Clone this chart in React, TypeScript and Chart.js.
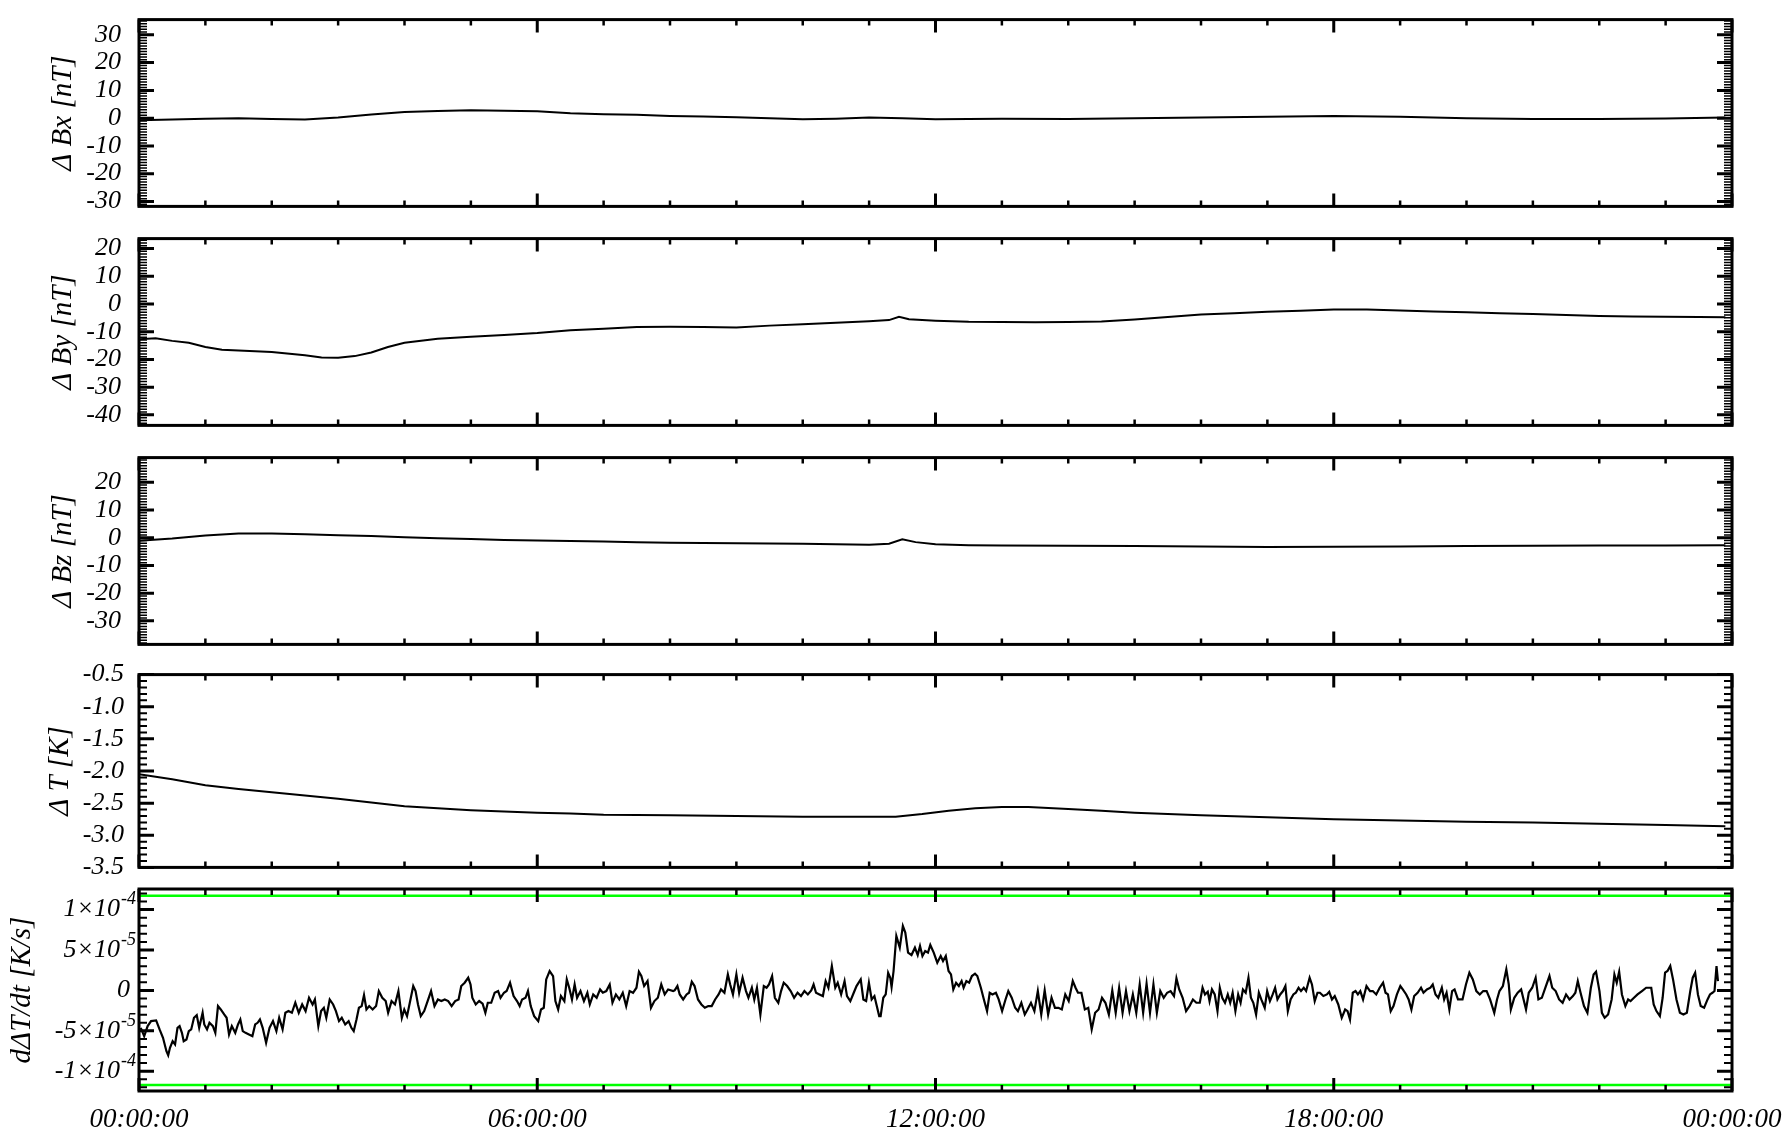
import React, { useEffect, useRef } from "react";
import { Chart, registerables } from "chart.js";

Chart.register(...registerables);

const SERIF = "'Liberation Serif', 'Times New Roman', 'DejaVu Serif', serif";

// ---------- DATA (time in minutes since 00:00:00) ----------
const bxTimes = [0, 30, 60, 90, 120, 150, 180, 210, 240, 270, 300, 330, 360, 390, 420, 450, 480, 510, 540, 570, 600, 630, 660, 690, 720, 780, 840, 900, 960, 1020, 1080, 1140, 1200, 1260, 1320, 1380, 1434];
const bxValues = [-0.8, -0.5, -0.2, 0.0, -0.3, -0.5, 0.2, 1.3, 2.2, 2.6, 2.8, 2.7, 2.5, 1.8, 1.4, 1.2, 0.8, 0.6, 0.3, 0.0, -0.4, -0.2, 0.2, 0.0, -0.4, -0.2, -0.3, 0.0, 0.2, 0.5, 0.8, 0.5, 0.0, -0.3, -0.3, -0.1, 0.2];

const byTimes = [0, 15, 30, 45, 60, 75, 90, 120, 150, 165, 180, 195, 210, 225, 240, 270, 300, 330, 360, 390, 420, 450, 480, 510, 540, 570, 600, 630, 660, 678, 687, 696, 720, 750, 780, 810, 840, 870, 900, 930, 960, 990, 1020, 1050, 1080, 1110, 1140, 1170, 1200, 1230, 1260, 1290, 1320, 1350, 1380, 1410, 1434];
const byValues = [-12.7, -12.4, -13.3, -14.0, -15.5, -16.5, -16.8, -17.3, -18.5, -19.3, -19.4, -18.8, -17.5, -15.5, -14.0, -12.5, -11.8, -11.2, -10.5, -9.5, -8.9, -8.3, -8.2, -8.3, -8.5, -7.8, -7.3, -6.8, -6.2, -5.8, -4.6, -5.5, -6.0, -6.4, -6.5, -6.6, -6.5, -6.3, -5.6, -4.7, -3.8, -3.3, -2.8, -2.4, -2.0, -2.0, -2.3, -2.7, -3.0, -3.3, -3.6, -4.0, -4.3, -4.5, -4.6, -4.7, -4.8];

const bzTimes = [0, 30, 60, 90, 120, 150, 180, 210, 240, 270, 300, 330, 360, 390, 420, 450, 480, 510, 540, 600, 630, 660, 678, 690, 702, 720, 750, 780, 840, 900, 960, 1020, 1080, 1140, 1200, 1260, 1320, 1380, 1434];
const bzValues = [-1.1, -0.3, 0.8, 1.5, 1.5, 1.2, 0.9, 0.6, 0.2, -0.2, -0.5, -0.8, -1.0, -1.2, -1.4, -1.6, -1.8, -1.9, -2.0, -2.2, -2.4, -2.5, -2.2, -0.6, -1.6, -2.4, -2.7, -2.8, -2.9, -3.0, -3.2, -3.4, -3.3, -3.2, -3.0, -2.9, -2.8, -2.8, -2.7];

const dtTimes = [0, 30, 60, 90, 120, 150, 180, 210, 240, 270, 300, 330, 360, 390, 420, 480, 540, 600, 660, 684, 708, 732, 756, 780, 804, 840, 870, 900, 960, 1020, 1080, 1140, 1200, 1260, 1320, 1380, 1434];
const dtValues = [-2.05, -2.13, -2.22, -2.28, -2.33, -2.38, -2.43, -2.49, -2.55, -2.58, -2.61, -2.63, -2.65, -2.66, -2.68, -2.69, -2.70, -2.71, -2.71, -2.71, -2.67, -2.62, -2.58, -2.56, -2.56, -2.59, -2.62, -2.65, -2.69, -2.72, -2.75, -2.77, -2.79, -2.80, -2.82, -2.84, -2.86];

// dΔT/dt samples: [minutes, value in units of 1e-5 K/s]
const dTdtSamples: [number, number][] = [
  [1.6,-4.63],[4.7,-5.66],[7.8,-4.42],[10.9,-3.80],[15.5,-3.72],[18.6,-4.83],[21.7,-5.87],[24.8,-7.52],[26.4,-8.02],[28.0,-7.11],
  [30.4,-6.28],[32.6,-6.69],[34.8,-4.63],[36.7,-4.42],[38.8,-5.25],[40.4,-6.28],[42.9,-6.07],[45.0,-5.04],[47.2,-4.83],[49.7,-3.39],
  [52.2,-3.06],[54.4,-4.63],[57.5,-2.77],[59.0,-4.21],[61.5,-4.83],[63.7,-4.01],[66.8,-4.42],[69.0,-5.25],[71.4,-1.94],[73.9,-2.36],
  [77.0,-2.98],[79.2,-3.39],[81.4,-5.45],[83.9,-4.42],[87.0,-5.25],[89.5,-4.21],[91.6,-3.60],[93.8,-5.04],[96.3,-5.25],[99.4,-5.45],
  [102.5,-5.66],[105.0,-4.21],[107.2,-4.01],[109.3,-3.60],[111.8,-4.63],[114.9,-6.49],[118.0,-4.63],[121.1,-3.80],[124.2,-5.04],[126.7,-3.39],
  [129.8,-4.83],[132.3,-2.77],[135.1,-2.56],[138.2,-2.77],[141.3,-1.53],[144.4,-2.77],[147.5,-1.74],[150.6,-2.56],[153.7,-0.91],[156.9,-1.74],
  [159.0,-1.12],[162.1,-4.42],[164.6,-2.56],[167.1,-2.15],[169.3,-3.39],[172.4,-1.12],[175.5,-1.74],[178.0,-2.56],[180.8,-3.80],[183.3,-3.39],
  [186.4,-4.21],[189.5,-3.80],[192.0,-4.63],[194.1,-5.04],[196.6,-3.60],[198.8,-2.15],[201.3,-1.94],[203.4,-0.58],[205.6,-2.36],[208.1,-1.94],
  [211.2,-2.36],[214.3,-1.94],[216.8,-0.08],[219.9,-0.91],[223.0,-1.32],[225.2,-2.77],[228.3,-1.32],[231.4,-1.74],[234.5,-0.08],[237.6,-3.39],
  [239.8,-2.36],[242.3,-3.18],[245.4,-1.12],[247.9,0.54],[250.0,-0.08],[252.2,-1.74],[254.7,-3.18],[257.8,-2.56],[260.9,-1.32],[264.0,-0.08],
  [267.1,-1.94],[270.2,-1.12],[273.3,-1.32],[276.4,-1.12],[279.5,-1.32],[282.6,-1.94],[285.8,-1.32],[288.9,-1.12],[291.3,0.54],[294.4,0.95],
  [297.6,1.57],[299.7,0.74],[301.3,-0.91],[304.4,-1.74],[307.5,-1.32],[310.6,-1.65],[313.1,-2.77],[315.3,-1.53],[318.4,-1.53],[321.5,-0.29],
  [324.6,-0.08],[326.8,-0.91],[329.9,-0.29],[332.3,-0.08],[335.4,0.95],[338.6,-0.70],[341.7,-1.32],[344.1,-1.94],[346.3,-1.12],[349.4,-0.91],
  [351.6,-0.08],[354.1,-1.94],[357.2,-3.18],[360.9,-3.80],[363.4,-2.36],[365.9,-2.15],[368.1,1.36],[371.2,2.40],[374.3,1.78],[376.4,-1.32],
  [378.9,-2.36],[381.4,-0.70],[384.5,-1.32],[386.7,1.36],[388.9,0.33],[391.4,-1.12],[393.8,0.74],[396.0,-0.91],[399.1,-0.08],[402.2,-1.32],
  [405.3,-0.29],[407.5,-1.74],[410.6,-0.50],[413.7,-0.91],[416.8,0.12],[419.3,-0.29],[422.4,-0.08],[425.5,0.74],[428.0,-1.53],[431.1,-0.50],
  [434.2,-1.12],[437.3,-0.29],[440.4,-1.94],[443.5,-0.08],[446.6,-0.29],[449.7,0.33],[451.9,2.31],[454.1,1.78],[456.6,0.54],[459.7,1.16],
  [462.8,-2.15],[465.9,-1.32],[469.0,-0.91],[472.1,0.74],[475.2,-0.50],[478.3,0.12],[482.9,-0.08],
  [484.2,0.00],[486.7,0.54],[488.8,-0.50],[491.9,-1.12],[495.0,-0.50],[497.2,-0.29],[499.7,1.07],[502.2,0.54],[505.3,-1.12],[508.4,-1.74],
  [511.5,-2.15],[514.6,-1.94],[517.7,-1.94],[520.8,-1.12],[523.9,-0.50],[526.1,0.12],[529.2,-0.29],[532.3,1.98],[534.4,0.74],[536.9,-0.50],
  [540.0,1.98],[542.5,-0.29],[545.6,1.57],[548.7,-0.08],[550.9,-0.91],[554.0,0.33],[556.2,-1.12],[558.6,0.33],[561.7,-2.98],[564.8,0.54],
  [567.3,0.33],[569.5,0.74],[572.3,1.78],[574.8,-0.91],[577.9,-1.53],[580.4,-0.08],[582.8,0.95],[585.9,0.54],[589.1,-0.08],[592.2,-0.91],
  [595.3,-0.29],[598.4,-0.70],[601.5,-0.08],[604.6,-0.50],[607.7,0.00],[609.8,0.74],[612.0,-0.29],[615.1,-0.50],[618.2,-0.70],[620.7,1.16],
  [623.2,0.33],[626.3,3.02],[629.4,0.33],[631.6,0.95],[634.7,-0.50],[637.8,1.16],[640.0,-0.70],[643.0,-1.32],[646.1,-0.29],[648.6,0.54],
  [652.4,1.36],[654.8,-1.12],[657.3,-1.32],[659.8,0.95],[662.3,-1.12],[664.8,-0.70],[666.6,-1.74],[669.1,-3.18],[670.4,-3.18],[672.8,-0.91],
  [675.0,-0.50],[677.2,2.19],[679.1,1.57],[680.3,0.41],[682.1,2.40],[684.6,6.74],[687.7,5.29],[690.5,7.98],[692.7,7.15],[695.2,4.67],
  [698.3,4.38],[701.4,5.29],[703.9,4.38],[706.0,5.50],[708.2,4.26],[710.7,4.88],[713.2,4.67],[715.3,5.62],[718.4,4.67],[721.6,3.43],
  [724.7,4.26],[726.8,3.64],[729.3,4.26],[731.8,2.40],[734.0,1.98],[736.1,0.12],[738.6,0.95],[741.1,0.54],[743.6,1.16],[745.4,0.33],
  [747.9,1.16],[750.4,0.95],[752.9,1.78],[755.7,2.07],[757.8,1.78],[761.0,0.33],[764.1,-1.32],[766.6,-2.56],[769.0,-0.29],[771.5,-0.50],
  [774.6,-0.29],[777.1,-1.12],[780.2,-2.56],[783.3,-1.12],[785.8,-0.08],[788.9,-0.91],[792.0,-2.15],[794.5,-2.56],[797.6,-1.53],[800.7,-2.98],
  [803.2,-2.36],[806.3,-1.53],[809.4,-2.56],[812.5,-0.08],[815.6,-2.98],[818.7,0.00],[821.8,-2.98],[824.9,-0.91],[828.0,-2.15],[831.1,-2.15],
  [834.2,-2.36],[837.3,-0.50],[840.4,-1.32],[844.1,1.16],[846.6,0.33],[848.8,-0.29],[851.9,-0.29],[855.0,-2.36],[858.1,-2.15],[861.2,-4.83],
  [864.3,-2.77],[867.4,-2.36],[870.5,-0.91],[873.6,-1.53],[876.7,-2.98],[879.8,0.00],[882.9,-2.77],[886.0,0.33],[889.1,-2.77],[892.2,-0.08],
  [895.3,-2.56],[898.4,-0.50],[901.5,-2.77],[904.6,0.74],[907.7,-2.77],[910.8,0.83],[913.9,-2.77],[917.0,0.74],[920.1,-2.77],[923.2,-0.08],
  [926.3,-0.91],[929.4,-0.29],[932.5,-0.08],[935.6,-0.70],[937.8,1.49],[940.3,0.12],[943.4,-0.91],[946.5,-2.56],[949.6,-1.94],[952.7,-1.12],
  [955.8,-1.53],[958.9,-1.53],[961.4,0.33],
  [963.6,-0.50],[966.1,-0.17],[967.7,-1.32],[969.9,0.12],[972.4,-0.50],[974.9,-2.56],[977.0,0.33],[979.2,-0.91],[981.7,-1.53],[984.2,-0.50],
  [986.4,-1.53],[988.6,-0.29],[991.1,-2.56],[993.6,-0.50],[995.8,-1.53],[997.9,0.12],[1000.4,-0.29],[1002.9,1.57],[1005.1,-0.91],[1007.3,-1.53],
  [1009.8,-2.98],[1012.3,-0.29],[1014.5,-1.12],[1017.6,-2.15],[1019.8,-0.08],[1022.3,-1.32],[1024.8,-0.50],[1027.0,0.33],[1029.1,-1.12],[1031.6,-0.50],
  [1034.1,-0.08],[1036.3,0.54],[1038.5,-2.56],[1041.0,-1.12],[1043.5,-0.50],[1045.7,-0.29],[1048.2,0.33],[1050.4,-0.08],[1052.9,0.33],[1055.0,-0.08],
  [1058.2,1.57],[1060.3,0.74],[1062.8,-1.32],[1065.3,-0.29],[1067.5,-0.29],[1070.6,-0.70],[1073.8,-0.50],[1075.9,-0.17],[1078.4,-1.12],[1080.9,-0.70],
  [1084.1,-1.74],[1087.2,-3.39],[1090.3,-2.36],[1092.5,-2.56],[1094.7,-3.60],[1097.2,-0.29],[1099.7,-0.08],[1101.8,-0.50],[1104.0,-0.08],[1106.5,-1.12],
  [1109.6,0.54],[1112.8,-0.08],[1115.3,-0.08],[1118.4,-0.50],[1121.5,0.33],[1124.6,0.95],[1126.8,-0.29],[1129.0,-0.50],[1131.5,-2.56],[1134.0,-1.94],
  [1137.1,-0.50],[1140.2,0.54],[1142.4,0.12],[1145.5,-0.50],[1147.7,-1.12],[1150.2,-2.36],[1152.7,-0.70],[1155.8,-0.29],[1158.9,0.33],[1161.1,-0.29],
  [1164.2,0.12],[1167.4,0.33],[1169.5,0.74],[1172.0,-0.50],[1174.5,-0.91],[1177.7,0.33],[1179.8,-1.12],[1182.0,-0.29],[1184.5,-2.36],[1187.0,-0.08],
  [1189.2,0.12],[1192.3,-1.12],[1196.4,-1.12],[1199.5,0.74],[1202.6,2.19],[1205.7,1.36],[1208.9,-0.08],[1212.0,-0.50],[1215.1,-0.08],[1218.2,-0.08],
  [1221.3,-1.12],[1225.1,-2.77],[1227.6,-1.12],[1229.8,-0.08],[1232.9,0.54],[1236.0,2.60],[1238.2,0.74],[1240.1,-2.36],[1243.2,-0.91],[1246.3,-0.29],
  [1249.4,0.12],[1251.6,-1.12],[1253.8,-2.36],[1256.3,-0.29],[1259.4,0.33],[1262.5,1.57],[1265.0,-1.12],[1268.1,-0.91],[1271.3,0.33],[1275.0,1.78],
  [1277.5,0.33],[1280.6,-0.08],[1283.7,-1.12],[1286.9,-1.53],[1290.0,-0.50],[1293.1,-1.12],[1296.2,-0.70],[1298.4,-0.29],[1300.6,1.16],[1303.1,-0.29],
  [1306.2,-1.94],[1309.3,-2.77],[1312.4,0.33],[1314.9,1.98],[1317.1,2.31],[1320.2,-0.08],[1322.4,-2.77],[1324.9,-3.39],[1328.0,-2.98],[1331.2,-1.12],
  [1333.7,1.98],[1335.8,0.95],[1338.0,2.31],[1340.5,-0.50],[1343.6,-1.94],[1346.1,-1.12],[1348.3,-1.32],[1351.4,-0.91],[1354.6,-0.50],[1358.6,-0.08],
  [1362.4,0.33],[1367.0,0.33],[1369.2,-1.74],[1371.7,-2.56],[1374.8,-3.18],[1377.3,-0.91],[1379.5,2.19],[1381.7,2.40],[1384.2,3.02],[1386.7,1.36],
  [1389.8,-1.12],[1392.9,-2.77],[1396.1,-2.98],[1399.2,-2.77],[1402.3,-0.08],[1404.5,1.57],[1406.7,2.19],[1409.2,-0.50],[1411.7,-1.94],[1414.8,-2.15],
  [1417.9,-1.12],[1420.1,-0.50],[1422.3,-0.29],[1424.2,-0.08],[1426.0,3.02],[1427.3,1.16],
];

// Green threshold lines (units of 1e-5 K/s)
const dTdtLimits = [11.7, -11.7];

// Tick labels of the dΔT/dt axis
const dTdtTickValues = [-10, -5, 0, 5, 10];
const dTdtTickBase = ["-1×10", "-5×10", "0", "5×10", "1×10"];
const dTdtTickExp = ["-4", "-5", "", "-5", "-4"];

const timeTickLabels = ["00:00:00", "06:00:00", "12:00:00", "18:00:00", "00:00:00"];

// ---------- LAYOUT ----------
const W = 1788;
const PLOT_H = 202;
const PAD_T = 18;
const PAD_B = 18;
const PAD_R = 56;
const AXIS_W = 139;

type PanelDef = {
  title: string;
  titlePad: number;
  top: number;
  yMin: number;
  yMax: number;
  major: number;
  minor: number;
  minorWidth: number;
  decimals: number;
  tickPad: number;
  datasets: any[];
  bottom: boolean;
  customLabels?: boolean;
};

const line = (times: number[], values: number[]) => ({
  data: times.map((t, i) => ({ x: t, y: values[i] })),
  borderColor: "#000",
  borderWidth: 2,
  pointRadius: 0,
  tension: 0,
  fill: false,
});

const panels: PanelDef[] = [
  { title: "Δ Bx [nT]", titlePad: 46, top: 12, yMin: -31.8, yMax: 35.5, major: 10, minor: 1, minorWidth: 1.5, decimals: 0, tickPad: 10, bottom: false, datasets: [line(bxTimes, bxValues)] },
  { title: "Δ By [nT]", titlePad: 46, top: 231, yMin: -43.8, yMax: 23.6, major: 10, minor: 1, minorWidth: 1.5, decimals: 0, tickPad: 10, bottom: false, datasets: [line(byTimes, byValues)] },
  { title: "Δ Bz [nT]", titlePad: 46, top: 450, yMin: -38.5, yMax: 28.9, major: 10, minor: 1, minorWidth: 1.5, decimals: 0, tickPad: 10, bottom: false, datasets: [line(bzTimes, bzValues)] },
  { title: "Δ T [K]", titlePad: 43, top: 670, yMin: -3.5, yMax: -0.5, major: 0.5, minor: 0.1, minorWidth: 2, decimals: 1, tickPad: 7, bottom: false, datasets: [line(dtTimes, dtValues)] },
  {
    title: "dΔT/dt [K/s]", titlePad: 5, top: 889, yMin: -12.45, yMax: 12.55, major: 5, minor: 1, minorWidth: 2, decimals: 0, tickPad: 7, bottom: true, customLabels: true,
    datasets: [
      ...dTdtLimits.map((v) => ({
        data: [{ x: 0, y: v }, { x: 1440, y: v }],
        borderColor: "#00ff00",
        borderWidth: 2.5,
        pointRadius: 0,
        fill: false,
      })),
      { ...line(dTdtSamples.map((s) => s[0]), dTdtSamples.map((s) => s[1])), borderWidth: 2.2 },
    ],
  },
];

function makeFramePlugin(p: PanelDef) {
  return {
    id: "idlFrame",
    afterDraw(chart: any) {
      const { ctx, chartArea: a, scales } = chart;
      const xs = scales.x;
      const ys = scales.y;
      ctx.save();
      ctx.strokeStyle = "#000";
      ctx.lineCap = "butt";
      // y ticks (left & right, pointing inward)
      const n0 = Math.ceil(p.yMin / p.minor - 1e-9);
      const n1 = Math.floor(p.yMax / p.minor + 1e-9);
      for (let k = n0; k <= n1; k++) {
        const v = k * p.minor;
        const r = v / p.major;
        const isMajor = Math.abs(r - Math.round(r)) < 1e-6;
        const y = ys.getPixelForValue(v);
        const len = isMajor ? 15 : 8;
        ctx.lineWidth = isMajor ? 3 : p.minorWidth;
        ctx.beginPath();
        ctx.moveTo(a.left, y);
        ctx.lineTo(a.left + len, y);
        ctx.moveTo(a.right, y);
        ctx.lineTo(a.right - len, y);
        ctx.stroke();
      }
      // x ticks (top & bottom, pointing inward)
      for (let t = 0; t <= 1440; t += 60) {
        const isMajor = t % 360 === 0;
        const x = xs.getPixelForValue(t);
        const len = isMajor ? 13 : 6;
        ctx.lineWidth = isMajor ? 3 : 2.5;
        ctx.beginPath();
        ctx.moveTo(x, a.top);
        ctx.lineTo(x, a.top + len);
        ctx.moveTo(x, a.bottom);
        ctx.lineTo(x, a.bottom - len);
        ctx.stroke();
      }
      // frame
      ctx.lineWidth = 3;
      ctx.strokeRect(a.left, a.top, a.right - a.left, a.bottom - a.top);

      // custom power-of-ten labels
      if (p.customLabels) {
        ctx.fillStyle = "#000";
        ctx.textBaseline = "middle";
        dTdtTickValues.forEach((v, i) => {
          const y = ys.getPixelForValue(v);
          const xr = a.left - 3;
          let supW = 0;
          if (dTdtTickExp[i]) {
            ctx.font = `italic 18px ${SERIF}`;
            supW = ctx.measureText(dTdtTickExp[i]).width;
            ctx.textAlign = "right";
            ctx.fillText(dTdtTickExp[i], xr, y - 10);
          }
          ctx.font = `italic 26px ${SERIF}`;
          ctx.textAlign = "right";
          ctx.fillText(dTdtTickBase[i], dTdtTickExp[i] ? xr - supW - 1 : a.left - 9, y);
        });
      }
      ctx.restore();
    },
  };
}

function Panel({ p }: { p: PanelDef }) {
  const ref = useRef<HTMLCanvasElement | null>(null);
  const xAxisH = p.bottom ? 42 : 0;
  const padB = p.bottom ? 4 : PAD_B;
  const height = PAD_T + PLOT_H + xAxisH + padB;

  useEffect(() => {
    const canvas = ref.current;
    if (!canvas) return;
    const chart = new Chart(canvas, {
      type: "line",
      data: { datasets: p.datasets },
      options: {
        responsive: false,
        animation: false,
        devicePixelRatio: 1,
        parsing: false as any,
        layout: { padding: { top: PAD_T, bottom: padB, left: 0, right: PAD_R } },
        plugins: { legend: { display: false }, tooltip: { enabled: false }, title: { display: false } },
        scales: {
          x: {
            type: "linear",
            min: 0,
            max: 1440,
            display: p.bottom,
            grid: { display: false },
            border: { display: false },
            ticks: {
              stepSize: 360,
              autoSkip: false,
              maxRotation: 0,
              padding: 5,
              color: "#000",
              font: { family: SERIF, size: 27, style: "italic" },
              callback: (v: any) => timeTickLabels[Math.round(Number(v) / 360)] ?? "",
            },
            afterFit: (s: any) => {
              s.height = xAxisH;
            },
          },
          y: {
            type: "linear",
            min: p.yMin,
            max: p.yMax,
            grid: { display: false },
            border: { display: false },
            ticks: {
              display: !p.customLabels,
              stepSize: p.major,
              includeBounds: false,
              autoSkip: false,
              padding: p.tickPad,
              color: "#000",
              font: { family: SERIF, size: 26, style: "italic" },
              callback: (v: any) => Number(v).toFixed(p.decimals),
            },
            title: {
              display: true,
              text: p.title,
              color: "#000",
              font: { family: SERIF, size: 29, style: "italic" },
              padding: { top: p.titlePad, bottom: 0 },
            },
            afterFit: (s: any) => {
              s.width = AXIS_W;
            },
          },
        },
      } as any,
      plugins: [makeFramePlugin(p)],
    });
    return () => chart.destroy();
  }, []);

  return (
    <canvas
      ref={ref}
      width={W}
      height={height}
      style={{ position: "absolute", left: 0, top: p.top - PAD_T, width: W, height, display: "block" }}
    />
  );
}

export default function App() {
  return (
    <div style={{ position: "absolute", left: 0, top: 0, width: W, height: 1132, background: "#fff", overflow: "hidden" }}>
      {panels.map((p, i) => (
        <Panel key={i} p={p} />
      ))}
    </div>
  );
}
